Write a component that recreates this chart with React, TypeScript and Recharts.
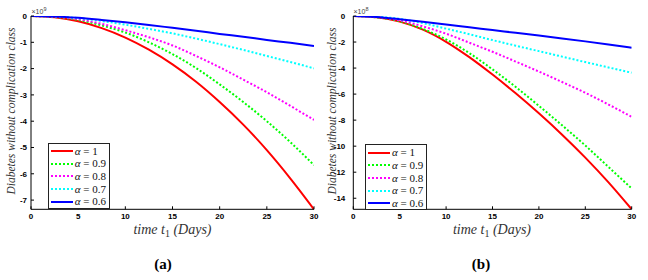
import React from 'react';
import { LineChart, Line, XAxis, YAxis, Legend } from 'recharts';

const times = [0, 2.5, 5, 7.5, 10, 12.5, 15, 17.5, 20, 22.5, 25, 27.5, 30];
const alphaLabels = ['1', '0.9', '0.8', '0.7', '0.6'];

// Panel (a), units of 1e9
const aAlpha10 = [0, -0.05, -0.2, -0.46, -0.82, -1.28, -1.84, -2.5, -3.27, -4.13, -5.1, -6.18, -7.35];
const aAlpha09 = [0, -0.04, -0.15, -0.36, -0.63, -1.0, -1.45, -1.98, -2.6, -3.27, -4.0, -4.8, -5.67];
const aAlpha08 = [0, -0.03, -0.12, -0.3, -0.54, -0.81, -1.12, -1.52, -1.95, -2.42, -2.9, -3.42, -3.95];
const aAlpha07 = [0, -0.02, -0.08, -0.19, -0.33, -0.49, -0.66, -0.86, -1.07, -1.29, -1.52, -1.75, -1.99];
const aAlpha06 = [0, -0.02, -0.07, -0.15, -0.24, -0.34, -0.45, -0.56, -0.68, -0.79, -0.91, -1.02, -1.14];

// Panel (b), units of 1e8
const bAlpha10 = [0, -0.1, -0.43, -1.05, -1.98, -3.16, -4.5, -5.94, -7.48, -9.12, -10.88, -12.78, -14.85];
const bAlpha09 = [0, -0.1, -0.4, -1.0, -1.8, -2.85, -4.1, -5.45, -6.9, -8.4, -9.95, -11.6, -13.25];
const bAlpha08 = [0, -0.08, -0.33, -0.8, -1.36, -2.05, -2.75, -3.5, -4.27, -5.07, -5.9, -6.8, -7.75];
const bAlpha07 = [0, -0.05, -0.22, -0.55, -0.97, -1.4, -1.85, -2.28, -2.7, -3.12, -3.54, -3.95, -4.36];
const bAlpha06 = [0, -0.08, -0.25, -0.45, -0.66, -0.87, -1.08, -1.29, -1.5, -1.72, -1.95, -2.19, -2.44];

const xTicks = [0, 5, 10, 15, 20, 25, 30];
const yTicksA = [0, -1, -2, -3, -4, -5, -6, -7];
const yTicksB = [0, -2, -4, -6, -8, -10, -12, -14];

const keys = ['a10', 'a09', 'a08', 'a07', 'a06'];
const colors = ['#ff0000', '#00ff00', '#ff00ff', '#00ffff', '#0000ff'];
const dashes = [undefined, '2 2', '2 2', '2 2', undefined];

const buildData = (series: number[][]) =>
  times.map((t, i) => {
    const row: Record<string, number> = { t };
    series.forEach((s, k) => (row[keys[k]] = s[i]));
    return row;
  });

const dataA = buildData([aAlpha10, aAlpha09, aAlpha08, aAlpha07, aAlpha06]);
const dataB = buildData([bAlpha10, bAlpha09, bAlpha08, bAlpha07, bAlpha06]);

const tickStyle = { fontSize: 8, fontWeight: 700, fill: '#000', fontFamily: 'Liberation Sans, Arial, sans-serif' };
const Nothing = () => <g />;

const serif = '"Liberation Serif", "DejaVu Serif", serif';

const LegendBox = () => (
  <div
    style={{
      border: '1px solid #222',
      background: '#fff',
      width: 62,
      height: 66,
      boxSizing: 'border-box',
      paddingTop: 1,
    }}
  >
    {alphaLabels.map((a, i) => (
      <div key={a} style={{ display: 'flex', alignItems: 'center', height: 12.7, lineHeight: '12.7px' }}>
        <svg width={25} height={8} style={{ marginLeft: 1 }}>
          <line
            x1={1}
            y1={4}
            x2={23}
            y2={4}
            stroke={colors[i]}
            strokeWidth={2}
            strokeDasharray={dashes[i]}
          />
        </svg>
        <span style={{ fontFamily: serif, fontSize: 11, color: '#111', whiteSpace: 'nowrap' }}>
          <i>α</i> = {a}
        </span>
      </div>
    ))}
  </div>
);

type PanelProps = {
  data: Record<string, number>[];
  yMin: number;
  yTicks: number[];
  left: number;
  marginLeft: number;
  yWidth: number;
  marginRight: number;
  yTickMargin: number;
  legendLeft: number;
  legendTop: number;
};

const Panel = (p: PanelProps) => (
  <div style={{ position: 'absolute', left: p.left, top: 0 }}>
    <LineChart
      width={320}
      height={240}
      data={p.data}
      margin={{ top: 16, right: p.marginRight, bottom: 10.7, left: p.marginLeft }}
    >
      <XAxis
        dataKey="t"
        type="number"
        domain={[0, 30]}
        ticks={xTicks}
        allowDataOverflow
        height={20}
        tickSize={-3}
        tickMargin={7}
        tick={tickStyle}
        axisLine={{ stroke: '#000' }}
        tickLine={{ stroke: '#000' }}
      />
      <XAxis
        xAxisId="top"
        orientation="top"
        type="number"
        domain={[0, 30]}
        ticks={xTicks}
        allowDataOverflow
        height={0}
        tickSize={-3}
        tick={Nothing}
        axisLine={{ stroke: '#000' }}
        tickLine={{ stroke: '#000' }}
      />
      <YAxis
        type="number"
        domain={[p.yMin, 0]}
        ticks={p.yTicks}
        allowDataOverflow
        width={p.yWidth}
        tickSize={-3}
        tickMargin={p.yTickMargin}
        tick={tickStyle}
        axisLine={{ stroke: '#000' }}
        tickLine={{ stroke: '#000' }}
      />
      <YAxis
        yAxisId="right"
        orientation="right"
        type="number"
        domain={[p.yMin, 0]}
        ticks={p.yTicks}
        allowDataOverflow
        width={0}
        tickSize={-3}
        tick={Nothing}
        axisLine={{ stroke: '#000' }}
        tickLine={{ stroke: '#000' }}
      />
      <Legend
        layout="vertical"
        align="center"
        verticalAlign="middle"
        content={LegendBox}
        wrapperStyle={{ position: 'absolute', left: p.legendLeft, top: p.legendTop, width: 62, height: 66 }}
      />
      {keys.map((k, i) => (
        <Line
          key={k}
          dataKey={k}
          name={`α = ${alphaLabels[i]}`}
          type="monotone"
          stroke={colors[i]}
          strokeWidth={2}
          strokeDasharray={dashes[i]}
          dot={false}
          activeDot={false}
          isAnimationActive={false}
        />
      ))}
    </LineChart>
  </div>
);

const Overlay = () => (
  <svg width={648} height={280} style={{ position: 'absolute', left: 0, top: 0, pointerEvents: 'none' }}>
    {[12, 333].map((x) => (
      <text
        key={x}
        transform={`translate(${x},111) rotate(-90)`}
        textAnchor="middle"
        dominantBaseline="middle"
        fontFamily={serif}
        fontStyle="italic"
        fontSize={11.5}
        fill="#333"
      >
        Diabetes without complication class
      </text>
    ))}
    {[172.5, 492].map((x) => (
      <text key={x} x={x} y={234} textAnchor="middle" fontFamily={serif} fontStyle="italic" fontSize={14} fill="#333">
        time t<tspan fontStyle="normal" fontSize={10} dy={2.5}>1</tspan>
        <tspan dy={-2.5}> (Days)</tspan>
      </text>
    ))}
    <text x={31.5} y={14} fontFamily="Liberation Sans, sans-serif" fontSize={7} fill="#444">
      ×10<tspan fontSize={5.5} dy={-3}>9</tspan>
    </text>
    <text x={353.5} y={14} fontFamily="Liberation Sans, sans-serif" fontSize={7} fill="#444">
      ×10<tspan fontSize={5.5} dy={-3}>8</tspan>
    </text>
    <text x={163} y={269} textAnchor="middle" fontFamily={serif} fontWeight="bold" fontSize={15} fill="#000">
      (a)
    </text>
    <text x={481} y={269} textAnchor="middle" fontFamily={serif} fontWeight="bold" fontSize={15} fill="#000">
      (b)
    </text>
  </svg>
);

export default function App() {
  return (
    <div style={{ position: 'absolute', left: 0, top: 0, width: 648, height: 280, background: '#fff', overflow: 'hidden' }}>
      <Panel
        data={dataA}
        yMin={-7.35}
        yTicks={yTicksA}
        left={0}
        marginLeft={1}
        yWidth={30}
        marginRight={6}
        yTickMargin={7}
        legendLeft={47.7}
        legendTop={142.7}
      />
      <Panel
        data={dataB}
        yMin={-14.85}
        yTicks={yTicksB}
        left={320}
        marginLeft={0.3}
        yWidth={33}
        marginRight={8.3}
        yTickMargin={11}
        legendLeft={45}
        legendTop={144.3}
      />
      <Overlay />
    </div>
  );
}
